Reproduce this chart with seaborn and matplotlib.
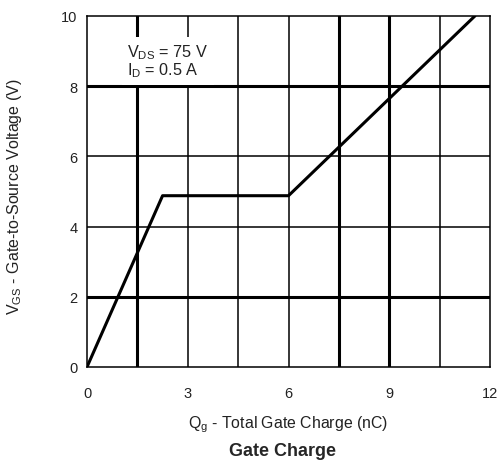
import matplotlib
matplotlib.use("Agg")
import matplotlib.pyplot as plt
import seaborn as sns
import pandas as pd

# Gate charge curve
qg = [0.0, 2.25, 6.0, 11.55]
vgs = [0.0, 4.88, 4.88, 10.0]

x_ticks = [0, 3, 6, 9, 12]
y_ticks = [0, 2, 4, 6, 8, 10]

# grid lines: position and whether drawn heavy
x_grid = [1.5, 3, 4.5, 6, 7.5, 9, 10.5]
x_grid_heavy = [True, False, False, False, True, True, False]
y_grid = [2, 4, 6, 8]
y_grid_heavy = [True, False, False, True]

sns.set_style("white")
plt.rcParams['font.family'] = ['Liberation Sans', 'DejaVu Sans']
plt.rcParams['mathtext.default'] = 'regular'

fig = plt.figure(figsize=(4.98, 4.64), dpi=100)
ax = fig.add_axes([0.1747, 0.2069, 0.8093, 0.7565])

for x, heavy in zip(x_grid, x_grid_heavy):
    ax.axvline(x, color="black", lw=2.2 if heavy else 1.1, zorder=1)
for y, heavy in zip(y_grid, y_grid_heavy):
    ax.axhline(y, color="black", lw=2.2 if heavy else 1.1, zorder=1)

df = pd.DataFrame({"qg": qg, "vgs": vgs})
sns.lineplot(data=df, x="qg", y="vgs", color="black", lw=2.2, ax=ax, zorder=3)

ax.set_xlim(0, 12)
ax.set_ylim(0, 10)
ax.set_xticks(x_ticks)
ax.set_yticks(y_ticks)
ax.tick_params(axis="y", length=0, labelsize=10.5, pad=7, colors="#222222")
ax.tick_params(axis="x", length=0, labelsize=10.5, pad=14, colors="#222222")
for s in ax.spines.values():
    s.set_color("black")
    s.set_linewidth(1.1)

ax.set_xlabel("")
ax.set_ylabel("")
fig.text(0.03, 0.575, "V$_{GS}$ - Gate-to-Source Voltage (V)", fontsize=11.5, rotation=90,
         ha="center", va="center", color="#222222")

ax.text(1.2, 8.72, "V$_{DS}$ = 75 V\nI$_{D}$ = 0.5 A", fontsize=11.7, ha="left", va="center",
        color="#222222", linespacing=0.92,
        bbox=dict(facecolor="white", edgecolor="none", pad=4), zorder=4)

fig.text(0.578, 0.084, "Q$_{g}$ - Total Gate Charge (nC)", fontsize=11.4, ha="center", va="center", color="#222222")
fig.text(0.567, 0.027, "Gate Charge", fontsize=13, fontweight="bold", ha="center", va="center")

fig.savefig("out.png", dpi=100)
